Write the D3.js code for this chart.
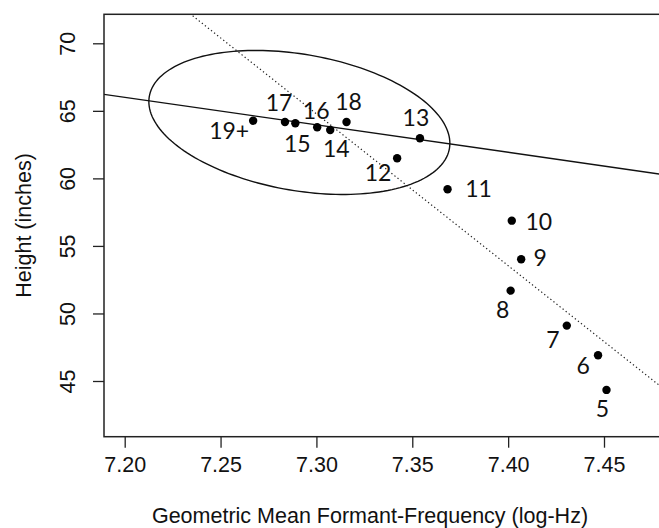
<!DOCTYPE html>
<html>
<head>
<meta charset="utf-8">
<script src="https://cdn.jsdelivr.net/npm/d3@7"></script>
<style>
  html, body { margin: 0; padding: 0; background: #fff; }
  svg { display: block; }
</style>
</head>
<body>
<svg id="chart" width="659" height="528"></svg>
<script>
// ---- data ----
const ageLabels = ["5","6","7","8","9","10","11","12","13","14","15","16","17","18","19+"];
const formantFreq = [7.4513, 7.4469, 7.4306, 7.4013, 7.4068, 7.4019, 7.3684, 7.3421, 7.3540, 7.3072, 7.2890, 7.3004, 7.2836, 7.3157, 7.2670];
const heightIn   = [44.34, 46.91, 49.10, 51.69, 54.01, 56.87, 59.19, 61.49, 62.97, 63.58, 64.08, 63.78, 64.17, 64.17, 64.27];
const xTicks = [7.20, 7.25, 7.30, 7.35, 7.40, 7.45];
const yTicks = [45, 50, 55, 60, 65, 70];
// regression lines: [intercept, slope]
const adultFit = [212.52, -20.35];   // solid
const childFit = [885.30, -112.4];   // dotted
// ellipse: [centerX, centerY, semiX, semiY, phase]
const ellipseParams = [7.2911, 64.14, 0.0785, 5.33, 1.2776];
const xTitle = "Geometric Mean Formant-Frequency (log-Hz)";
const yTitle = "Height (inches)";

// label placement offsets (layout only)
const labelOffsets = [[-4,19],[-15,11],[-14,14],[-8,19],[19,-2],[27,1],[31,-1],[-19,14],[-4,-21],[6,19],[2,20],[-1,-17],[-6,-19],[2,-20],[-24,10]];

// ---- layout ----
const svg = d3.select("#chart");
const plot = {left: 104, top: 14.3, right: 664, bottom: 436.7};
const x = d3.scaleLinear().domain([7.20, 7.45]).range([124.7, 604]);
const y = d3.scaleLinear().domain([45, 70]).range([381, 43.3]);
const axisFont = "'Liberation Sans', Arial, sans-serif";
const labelFont = "Lato, 'Open Sans', sans-serif";

svg.append("defs").append("clipPath").attr("id","clip")
  .append("rect").attr("x", plot.left).attr("y", plot.top)
  .attr("width", plot.right - plot.left).attr("height", plot.bottom - plot.top);

const g = svg.append("g").attr("clip-path", "url(#clip)");

// lines
const x0 = x.invert(plot.left), x1 = x.invert(plot.right);
function fitLine(fit) {
  return [[x0, fit[0] + fit[1]*x0], [x1, fit[0] + fit[1]*x1]];
}
const line = d3.line().x(d => x(d[0])).y(d => y(d[1]));
g.append("path").attr("d", line(fitLine(adultFit)))
  .attr("fill","none").attr("stroke","#111").attr("stroke-width",1.4);
g.append("path").attr("d", line(fitLine(childFit)))
  .attr("fill","none").attr("stroke","#222").attr("stroke-width",1.2)
  .attr("stroke-dasharray","1.3,2.6");

// ellipse
const [ecx, ecy, ea, eb, eph] = ellipseParams;
const ePts = d3.range(0, 361, 2).map(a => {
  const t = a * Math.PI / 180;
  return [ecx + ea*Math.cos(t), ecy - eb*Math.cos(t - eph)];
});
g.append("path").attr("d", d3.line().x(d => x(d[0])).y(d => y(d[1])).curve(d3.curveLinearClosed)(ePts))
  .attr("fill","none").attr("stroke","#111").attr("stroke-width",1.4);

// points
const pts = ageLabels.map((a,i) => ({age: a, fx: formantFreq[i], h: heightIn[i], off: labelOffsets[i]}));
g.selectAll("circle.pt").data(pts).enter().append("circle")
  .attr("class","pt").attr("cx", d => x(d.fx)).attr("cy", d => y(d.h)).attr("r", 4.2)
  .attr("fill","#000");

svg.selectAll("text.lbl").data(pts).enter().append("text")
  .attr("class","lbl")
  .attr("x", d => x(d.fx) + d.off[0])
  .attr("y", d => y(d.h) + d.off[1])
  .attr("dy","0.36em")
  .attr("text-anchor","middle")
  .attr("font-family", labelFont).attr("font-size", 23).attr("fill","#111")
  .text(d => d.age);

// box (left, top, bottom; right edge is off-canvas)
svg.append("rect").attr("x", plot.left).attr("y", plot.top)
  .attr("width", plot.right - plot.left).attr("height", plot.bottom - plot.top)
  .attr("fill","none").attr("stroke","#222").attr("stroke-width",1.5);

// x axis
const xAxis = d3.axisBottom(x).tickValues(xTicks).tickSize(11).tickFormat(d3.format(".2f")).tickPadding(9);
const xg = svg.append("g").attr("transform", `translate(0,${plot.bottom})`).call(xAxis);
xg.select(".domain").remove();
xg.selectAll(".tick line").attr("stroke","#222").attr("stroke-width",1.3);
xg.selectAll(".tick text").attr("font-family", axisFont).attr("font-size", 21.5).attr("fill","#111");

// y axis
const yAxis = d3.axisLeft(y).tickValues(yTicks).tickSize(11).tickFormat(d3.format("d"));
const yg = svg.append("g").attr("transform", `translate(${plot.left},0)`).call(yAxis);
yg.select(".domain").remove();
yg.selectAll(".tick line").attr("stroke","#222").attr("stroke-width",1.3);
yg.selectAll(".tick text")
  .attr("font-family", axisFont).attr("font-size", 21.5).attr("fill","#111")
  .attr("x", null).attr("dy", null)
  .attr("text-anchor","middle")
  .attr("transform", "translate(-29,0) rotate(-90)");

// titles
svg.append("text").attr("x", 370).attr("y", 523)
  .attr("text-anchor","middle").attr("font-family", axisFont).attr("font-size", 21.5).attr("fill","#111")
  .text(xTitle);
svg.append("text").attr("transform", `translate(31,${(plot.top+plot.bottom)/2}) rotate(-90)`)
  .attr("text-anchor","middle").attr("font-family", axisFont).attr("font-size", 21.5).attr("fill","#111")
  .text(yTitle);
</script>
</body>
</html>
